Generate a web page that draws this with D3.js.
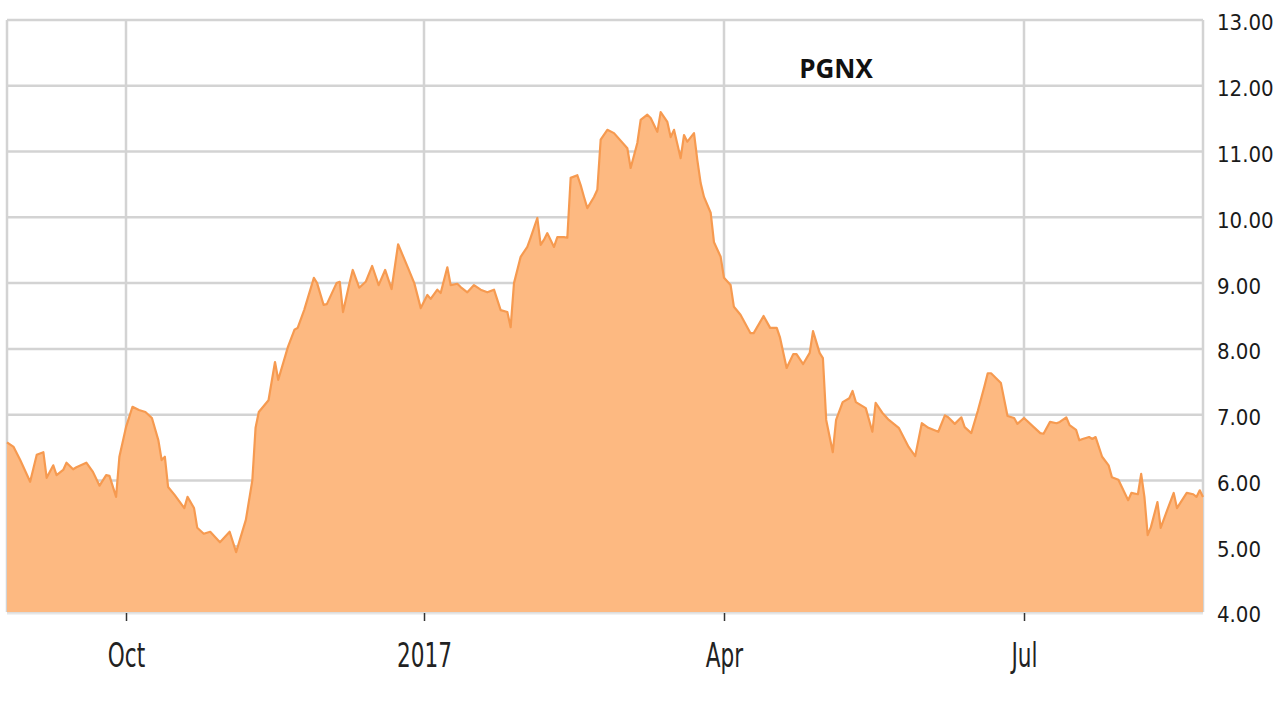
<!DOCTYPE html>
<html><head><meta charset="utf-8">
<script src="https://cdn.jsdelivr.net/npm/d3@7"></script>
<style>html,body{margin:0;padding:0;background:#fff;}svg{display:block;}</style>
</head><body>
<svg id="chart" width="1280" height="720"></svg>
<script>
const title = "PGNX";
const dates = [
"2016-08-26","2016-08-28","2016-08-30","2016-09-02","2016-09-04","2016-09-06","2016-09-07","2016-09-09","2016-09-10","2016-09-12",
"2016-09-13","2016-09-15","2016-09-16","2016-09-19","2016-09-21","2016-09-23","2016-09-25","2016-09-26","2016-09-28","2016-09-29",
"2016-10-01","2016-10-03","2016-10-05","2016-10-07","2016-10-09","2016-10-11","2016-10-12","2016-10-13","2016-10-14","2016-10-16",
"2016-10-19","2016-10-20","2016-10-22","2016-10-23","2016-10-25","2016-10-27","2016-10-30","2016-11-02","2016-11-04","2016-11-07",
"2016-11-09","2016-11-10","2016-11-11","2016-11-14","2016-11-16","2016-11-17","2016-11-20","2016-11-22","2016-11-23","2016-11-25",
"2016-11-28","2016-11-29","2016-12-01","2016-12-02","2016-12-05","2016-12-06","2016-12-07","2016-12-09","2016-12-10","2016-12-12",
"2016-12-14","2016-12-16","2016-12-18","2016-12-20","2016-12-22","2016-12-24","2016-12-27","2016-12-29","2016-12-31",
"2017-01-02","2017-01-03","2017-01-05","2017-01-06","2017-01-08","2017-01-09","2017-01-11","2017-01-12","2017-01-14","2017-01-16",
"2017-01-18","2017-01-20","2017-01-22","2017-01-24","2017-01-26","2017-01-27","2017-01-28","2017-01-30","2017-02-01","2017-02-02",
"2017-02-04","2017-02-05","2017-02-06","2017-02-07","2017-02-09","2017-02-10","2017-02-12","2017-02-13","2017-02-14","2017-02-16",
"2017-02-17","2017-02-18","2017-02-19","2017-02-21","2017-02-22","2017-02-23","2017-02-25","2017-02-27","2017-03-03","2017-03-04",
"2017-03-06","2017-03-07","2017-03-09","2017-03-10","2017-03-12","2017-03-13","2017-03-15","2017-03-16","2017-03-17","2017-03-19",
"2017-03-20","2017-03-21","2017-03-23","2017-03-24","2017-03-25","2017-03-26","2017-03-28","2017-03-29","2017-03-31",
"2017-04-01","2017-04-03","2017-04-04","2017-04-06","2017-04-09","2017-04-10","2017-04-13","2017-04-15","2017-04-17","2017-04-18",
"2017-04-20","2017-04-22","2017-04-23","2017-04-25","2017-04-27","2017-04-28","2017-04-30","2017-05-01","2017-05-02","2017-05-04",
"2017-05-05","2017-05-07","2017-05-09","2017-05-10","2017-05-11","2017-05-14","2017-05-16","2017-05-17","2017-05-19","2017-05-21",
"2017-05-24","2017-05-27","2017-05-29","2017-05-31","2017-06-02","2017-06-05","2017-06-07","2017-06-08","2017-06-10","2017-06-12",
"2017-06-13","2017-06-15","2017-06-17","2017-06-19","2017-06-20","2017-06-21","2017-06-24","2017-06-26","2017-06-28","2017-06-29",
"2017-07-01","2017-07-04","2017-07-06","2017-07-07","2017-07-09","2017-07-11","2017-07-12","2017-07-14","2017-07-15","2017-07-17",
"2017-07-18","2017-07-19","2017-07-21","2017-07-22","2017-07-23","2017-07-25","2017-07-27","2017-07-28","2017-07-30","2017-08-02",
"2017-08-03","2017-08-05","2017-08-06","2017-08-07","2017-08-08","2017-08-09","2017-08-11","2017-08-12","2017-08-14","2017-08-16",
"2017-08-17","2017-08-20","2017-08-22","2017-08-23","2017-08-24","2017-08-25"
];
const prices = [
6.58,6.51,6.31,5.98,6.39,6.43,6.04,6.23,6.08,6.16,
6.27,6.17,6.20,6.27,6.13,5.92,6.08,6.07,5.75,6.36,
6.81,7.12,7.07,7.04,6.95,6.61,6.31,6.36,5.90,5.78,
5.58,5.75,5.58,5.28,5.19,5.22,5.06,5.22,4.91,5.40,
6.00,6.80,7.04,7.22,7.80,7.53,8.03,8.29,8.32,8.59,
9.08,9.00,8.67,8.68,9.00,9.02,8.56,9.00,9.20,8.93,
9.02,9.26,8.97,9.20,8.91,9.59,9.24,9.00,8.62,
8.82,8.76,8.90,8.85,9.24,8.97,8.99,8.94,8.86,8.97,
8.90,8.86,8.90,8.59,8.56,8.33,9.00,9.40,9.55,9.69,
9.99,9.58,9.66,9.76,9.55,9.70,9.70,9.69,10.60,10.64,
10.49,10.31,10.14,10.31,10.42,11.18,11.33,11.28,11.05,10.75,
11.13,11.48,11.56,11.51,11.30,11.60,11.45,11.22,11.33,10.90,
11.25,11.15,11.28,10.87,10.52,10.31,10.07,9.62,9.40,
9.08,8.97,8.64,8.52,8.24,8.24,8.50,8.32,8.32,8.17,
7.71,7.92,7.92,7.77,7.94,8.27,7.94,7.86,6.92,6.43,
6.92,7.19,7.25,7.36,7.19,7.10,6.74,7.18,7.03,6.92,
6.80,6.51,6.37,6.87,6.80,6.74,6.99,6.96,6.86,6.96,
6.81,6.72,7.06,7.43,7.63,7.63,7.48,6.98,6.95,6.86,
6.95,6.81,6.72,6.71,6.89,6.87,6.89,6.96,6.84,6.77,
6.61,6.63,6.66,6.63,6.66,6.36,6.23,6.05,6.01,5.70,
5.81,5.79,6.10,5.75,5.17,5.29,5.67,5.28,5.55,5.81,
5.58,5.81,5.79,5.75,5.85,5.75
];
const xTickDates = ["2016-10-01","2017-01-01","2017-04-01","2017-07-01"];
const xTickLabels = ["Oct","2017","Apr","Jul"];
const yTicks = [4,5,6,7,8,9,10,11,12,13];

(function(){
const parse = d3.timeParse("%Y-%m-%d");
const data = dates.map((d,i)=>({date:parse(d), value:prices[i]}));

const svg = d3.select("#chart");
const pLeft = 7, pRight = 1203, pTop = 20, pBottom = 612;

const x = d3.scaleTime()
  .domain(["2016-08-26","2016-10-01","2017-01-01","2017-04-01","2017-07-01","2017-08-25"].map(parse))
  .range([pLeft,126,424,724,1024,pRight]);
const y = d3.scaleLinear().domain([4,13]).range([pBottom, pTop]);

const grid = svg.append("g");
grid.selectAll("line.h").data(yTicks).join("line").attr("class","h")
  .attr("x1", pLeft).attr("x2", pRight)
  .attr("y1", d=>y(d)).attr("y2", d=>y(d))
  .attr("stroke","#d3d3d3").attr("stroke-width",2.5);
grid.selectAll("line.v").data(xTickDates.map(parse)).join("line").attr("class","v")
  .attr("x1", d=>x(d)).attr("x2", d=>x(d))
  .attr("y1", pTop).attr("y2", pBottom)
  .attr("stroke","#d3d3d3").attr("stroke-width",2.5);
grid.append("line").attr("x1",pLeft).attr("x2",pLeft).attr("y1",pTop).attr("y2",pBottom).attr("stroke","#d3d3d3").attr("stroke-width",2.5);
grid.append("line").attr("x1",pRight).attr("x2",pRight).attr("y1",pTop).attr("y2",pBottom).attr("stroke","#d3d3d3").attr("stroke-width",2.5);

const area = d3.area().x(d=>x(d.date)).y0(y(4)).y1(d=>y(d.value));
svg.append("path").datum(data).attr("d", area).attr("fill","#fdb981");
const line = d3.line().x(d=>x(d.date)).y(d=>y(d.value));
svg.append("path").datum(data).attr("d", line).attr("fill","none")
  .attr("stroke","#f69a50").attr("stroke-width",2.2).attr("stroke-linejoin","round");

svg.append("line").attr("x1",pLeft).attr("x2",pRight).attr("y1",pBottom+1.5).attr("y2",pBottom+1.5)
  .attr("stroke","#e6e6e6").attr("stroke-width",2);

const xAxis = d3.axisBottom(x).tickValues(xTickDates.map(parse))
  .tickFormat((d,i)=>xTickLabels[i]).tickSize(8).tickPadding(0);
const gx = svg.append("g").attr("transform",`translate(0,${pBottom+1})`).call(xAxis);
gx.select(".domain").remove();
gx.selectAll(".tick line").attr("stroke","#333").attr("stroke-width",1.5);
gx.selectAll(".tick text")
  .attr("font-family","'DejaVu Sans Condensed','DejaVu Sans',sans-serif")
  .attr("font-size",24).attr("fill","#222")
  .attr("y",0).attr("dy",0)
  .attr("transform","translate(0,54) scale(1,1.4)");

const yAxis = d3.axisRight(y).tickValues(yTicks).tickFormat(d3.format(".2f")).tickSize(0).tickPadding(14);
const gy = svg.append("g").attr("transform",`translate(${pRight},0)`).call(yAxis);
gy.select(".domain").remove();
gy.selectAll(".tick text")
  .attr("font-family","'DejaVu Sans Condensed','DejaVu Sans',sans-serif")
  .attr("font-size",22).attr("fill","#1a1a1a").attr("dy","0.45em");

svg.append("text").attr("x",836).attr("y",78).attr("text-anchor","middle")
  .attr("font-family","'Open Sans',sans-serif").attr("font-weight",700)
  .attr("font-size",26).attr("fill","#111").text(title);
})();
</script>
</body></html>
